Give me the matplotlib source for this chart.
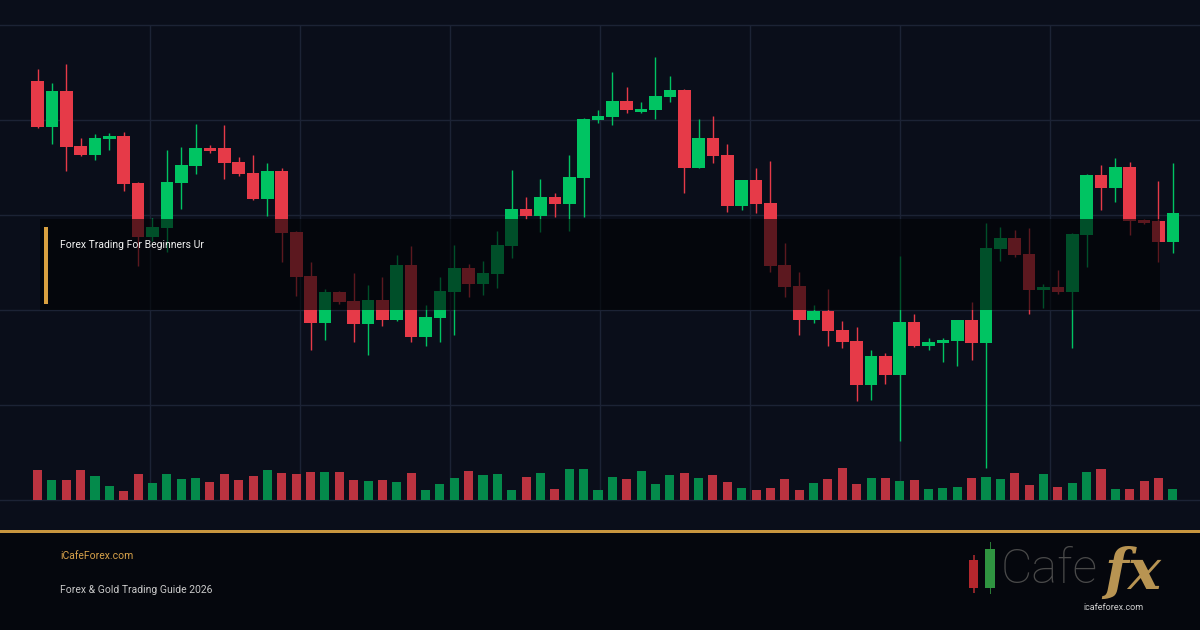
import matplotlib.pyplot as plt
from matplotlib.patches import Rectangle
from matplotlib import rcParams

rcParams['font.family'] = ['Roboto', 'DejaVu Sans']

# --- OHLC data (arbitrary price units) ---
opens = [419, 373, 409, 354, 345, 361, 364, 317, 263, 272,
         317, 334, 352, 352, 338, 327, 301, 329, 268, 224,
         177, 208, 199, 176, 200, 180, 235, 163, 182, 208,
         232, 216, 226, 254, 291, 284, 303, 296, 322, 380,
         383, 399, 388, 390, 403, 410, 332, 362, 345, 294,
         320, 297, 235, 214, 180, 189, 170, 159, 115, 144,
         125, 178, 154, 157, 159, 180, 157, 251, 262, 246,
         210, 213, 208, 265, 325, 312, 333, 280, 279, 258]
highs = [431, 417, 436, 362, 366, 367, 368, 318, 282, 350,
         353, 376, 355, 375, 343, 345, 337, 332, 269, 238,
         211, 209, 227, 215, 223, 245, 254, 195, 223, 255,
         236, 239, 269, 330, 303, 321, 307, 345, 382, 390,
         428, 413, 398, 443, 424, 411, 381, 384, 356, 320,
         332, 339, 257, 228, 195, 211, 179, 173, 150, 147,
         244, 186, 162, 162, 180, 198, 277, 273, 270, 272,
         216, 230, 267, 326, 335, 342, 338, 281, 319, 337]
lows = [372, 356, 329, 344, 340, 350, 309, 234, 259, 248,
        291, 326, 347, 321, 324, 300, 284, 238, 204, 150,
        160, 196, 158, 145, 174, 179, 158, 154, 158, 165,
        203, 205, 212, 242, 281, 268, 283, 269, 283, 377,
        375, 387, 387, 381, 398, 307, 332, 337, 288, 290,
        287, 228, 203, 165, 177, 154, 152, 99, 100, 116,
        59, 153, 150, 138, 134, 140, 32, 239, 243, 186,
        192, 206, 152, 233, 290, 298, 265, 276, 238, 247]
closes = [373, 409, 353, 345, 362, 364, 316, 263, 273, 318,
          335, 352, 349, 337, 326, 301, 329, 267, 223, 177,
          208, 198, 176, 200, 180, 235, 163, 183, 209, 232,
          216, 227, 255, 291, 284, 303, 296, 323, 381, 384,
          399, 390, 391, 404, 410, 332, 362, 344, 294, 320,
          296, 234, 213, 180, 189, 169, 158, 115, 144, 125,
          178, 154, 158, 160, 180, 157, 252, 262, 245, 210,
          213, 208, 266, 325, 312, 333, 279, 277, 258, 287]
volumes = [30, 20, 20, 30, 24, 14, 9, 26, 17, 26,
           21, 22, 18, 26, 20, 24, 30, 27, 26, 28,
           28, 28, 20, 19, 20, 18, 27, 10, 16, 22,
           29, 25, 26, 10, 23, 27, 11, 31, 31, 10,
           23, 21, 29, 16, 25, 27, 22, 25, 18, 12,
           10, 12, 21, 10, 17, 21, 32, 16, 22, 22,
           19, 20, 11, 12, 13, 22, 23, 21, 27, 15,
           26, 13, 17, 28, 31, 11, 11, 19, 22, 11]

# colours
BG = '#0a0e1a'
FOOT = '#05070d'
GRID = '#1c2335'
UP, DOWN = '#00c462', '#e63a48'
VUP, VDOWN = '#048a4b', '#bb3340'
GOLD = '#c9963f'

fig = plt.figure(figsize=(12, 6.3), dpi=100, facecolor=FOOT)
ax = fig.add_axes([0, 100 / 630, 1, 530 / 630])
ax.set_facecolor(BG)

n = len(opens)
step = 1200 / 83.5
xmin = -37.5 / step
ax.set_xlim(xmin, xmin + 1200 / step)
ax.set_ylim(-30, 500)

# grid (vertical lines only span the price/volume panel)
for k in range(1, 8):
    ax.vlines(xmin + k * 150 / step, 0, 475, color=GRID, lw=1, zorder=0)
for p in range(0, 500, 95):
    ax.axhline(p, color=GRID, lw=1, zorder=0)

# candles
for i in range(n):
    o, h, l, c = opens[i], highs[i], lows[i], closes[i]
    col = UP if c >= o else DOWN
    ax.vlines(i, l, h, color=col, lw=1.0, zorder=2)
    ax.bar(i, max(abs(c - o), 2.5), bottom=min(o, c), width=0.88,
           color=col, zorder=3)

# volume
vcols = [VUP if closes[i] >= opens[i] else VDOWN for i in range(n)]
ax.bar(range(n), volumes, bottom=0, width=0.63, color=vcols, zorder=3)

for s in ax.spines.values():
    s.set_visible(False)
ax.set_xticks([])
ax.set_yticks([])

# overlay caption box
W, H = 1200, 630
fig.patches.append(Rectangle((40 / W, 1 - 310 / H), 1120 / W, 91 / H,
                             transform=fig.transFigure, facecolor='#010204',
                             alpha=0.6, zorder=5))
fig.patches.append(Rectangle((44 / W, 1 - 304 / H), 4 / W, 77 / H,
                             transform=fig.transFigure, facecolor='#d9a040',
                             zorder=6))
fig.text(60 / W, 1 - 245 / H, 'Forex Trading For Beginners Ur', color='#f2f2f2',
         fontsize=7.5, va='center', ha='left', zorder=7)

# gold separator
fig.patches.append(Rectangle((0, 1 - 533 / H), 1, 3 / H, transform=fig.transFigure,
                             facecolor=GOLD, zorder=6))

# footer texts
fig.text(60 / W, 1 - 556 / H, 'iCafeForex.com', color='#d8a24a', fontsize=7.5,
         va='center', ha='left')
fig.text(60 / W, 1 - 590 / H, 'Forex & Gold Trading Guide 2026', color='#c9c9c9',
         fontsize=7.5, va='center', ha='left')

# logo
fig.patches.append(Rectangle((973 / W, 1 - 593 / H), 1.5 / W, 38 / H,
                             transform=fig.transFigure, facecolor='#8a2328', zorder=6))
fig.patches.append(Rectangle((969 / W, 1 - 588 / H), 9 / W, 28 / H,
                             transform=fig.transFigure, facecolor='#b4272d', zorder=7))
fig.patches.append(Rectangle((989.5 / W, 1 - 594 / H), 1.5 / W, 52 / H,
                             transform=fig.transFigure, facecolor='#2a7a36', zorder=6))
fig.patches.append(Rectangle((985 / W, 1 - 588 / H), 10 / W, 39 / H,
                             transform=fig.transFigure, facecolor='#2f9440', zorder=7))
fig.text(1001 / W, 1 - 570 / H, 'Cafe', color='#4a4a4a', fontsize=35,
         fontweight='light', va='center', ha='left')
fig.text(1104 / W, 1 - 573 / H, 'fx', color='#b89452', fontsize=40,
         family='DejaVu Serif', fontweight='bold', fontstyle='italic',
         va='center', ha='left')
fig.text(1113 / W, 1 - 608 / H, 'icafeforex.com', color='#cfcfcf', fontsize=6.5,
         va='center', ha='center')

fig.savefig('out.png', dpi=100, facecolor=FOOT)
